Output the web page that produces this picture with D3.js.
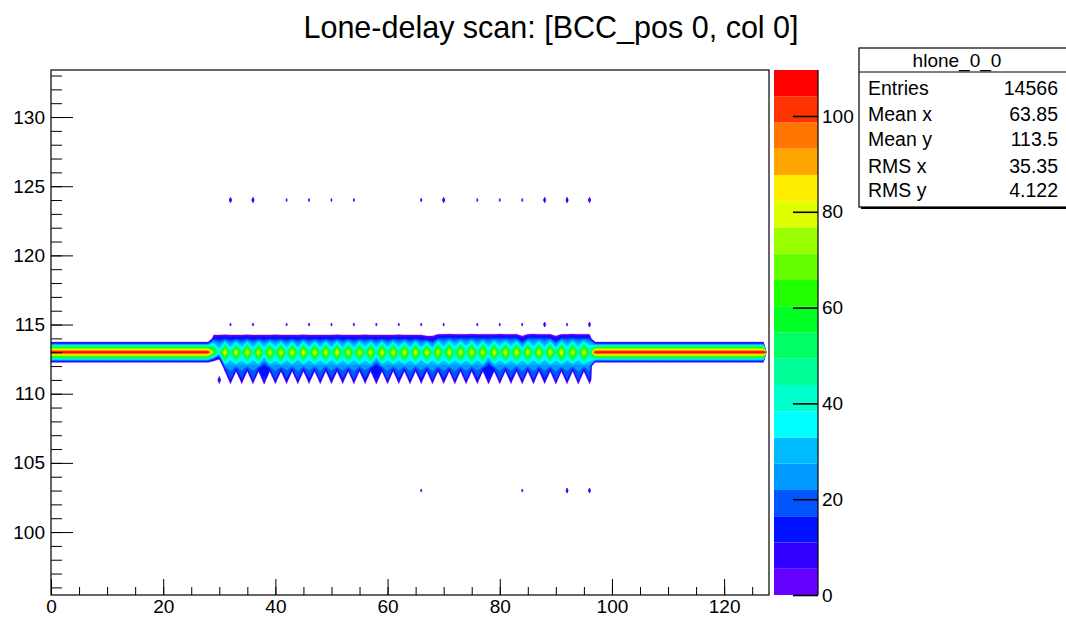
<!DOCTYPE html>
<html>
<head>
<meta charset="utf-8">
<script src="https://cdn.jsdelivr.net/npm/d3@7"></script>
<style>
  body { margin: 0; background: #fff; }
  #content { width: 1066px; height: 618px; }
  text { font-family: "Liberation Sans", Arial, Helvetica, sans-serif; fill: #000; }
</style>
</head>
<body>
<div id="content"></div>
<script>
// histogram binning (bins centred on integers)
var xFirst = 0, nx = 128;
var yFirst = 96, ny = 38;
var xDomain = [0, 128];
var yDomain = [95.45, 133.4];
var zMax = 109.6;

var titleText = "Lone-delay scan: [BCC_pos 0, col 0]";
var xTicks = [0, 20, 40, 60, 80, 100, 120];
var yTicks = [100, 105, 110, 115, 120, 125, 130];
var zTicks = [0, 20, 40, 60, 80, 100];

var statsName = "hlone_0_0";
var statsLabels = ["Entries", "Mean x", "Mean y", "RMS x", "RMS y"];
var statsValues = ["14566", "63.85", "113.5", "35.35", "4.122"];

// ROOT-like rainbow palette, lowest level first
var palette = ["#6600ff", "#3300ff", "#0011ff", "#0055ff", "#0099ff",
               "#00bbff", "#00ffff", "#00ffcc", "#00ff99", "#00ff66",
               "#00ff22", "#22ff00", "#66ff00", "#99ff00", "#ddff00",
               "#ffee00", "#ffa500", "#ff7700", "#ff3300", "#ff0000"];

// outside the scan only the y = 113 row is filled
var peakY = 113;
var sideCount = 108;
var sideRanges = [[0, 28], [97, 127]];

// inside the scan, x = 29 .. 96
var scanX = d3.range(29, 97);
var row114 = [13, 13, 14, 13, 13, 13, 14, 13, 13, 13, 13, 14, 13, 13, 13, 13, 14, 13, 13, 13,
              13, 13, 14, 13, 13, 13, 13, 14, 13, 13, 13, 13, 13, 14, 13, 13, 13, 13,
              8, 8,
              17, 17, 18, 17, 17, 17, 18, 17, 17, 17, 17, 18, 17, 17, 17,
              8,
              17, 18, 17, 17, 17,
              8,
              17, 17, 18, 17, 17, 17];
var row113 = [70, 40,
              86, 44, 85, 45, 87, 43, 86, 44, 85, 46, 86, 44, 87, 43, 85, 44, 86, 45,
              86, 44, 87, 44, 85, 43, 86, 45, 86, 44, 87, 44, 85, 45, 86, 44, 86, 43,
              87, 45, 85, 44, 86, 44, 86, 45, 87, 44, 85, 43, 86, 44, 86, 45, 87, 44,
              85, 44, 86, 43, 86, 45, 87, 44, 85, 44, 86, 48];
var row112 = [0, 0, 23, 25, 24, 25, 23, 25, 24, 12, 24, 25, 24, 25, 23, 25, 24, 25, 24, 25,
              23, 25, 24, 25, 24, 25, 23, 25, 24, 12, 24, 25, 23, 25, 24, 25, 24, 25, 23, 25,
              24, 25, 24, 25, 23, 25, 24, 25, 24, 12, 24, 25, 23, 25, 24, 25, 24, 25, 23, 25,
              24, 25, 24, 25, 23, 25, 24, 25];
var row111 = [0, 15, 0, 16, 0, 15, 0, 16, 0, 18, 0, 16, 0, 15, 0, 16, 0, 15, 0, 16,
              0, 15, 0, 15, 0, 16, 0, 15, 0, 17, 0, 16, 0, 15, 0, 16, 0, 15, 0, 16,
              0, 15, 0, 16, 0, 16, 0, 15, 0, 17, 0, 16, 0, 15, 0, 16, 0, 16, 0, 15,
              0, 17, 0, 16, 0, 17, 0, 16];

// isolated single bins [x, y, count]
var strayBins = [
  [32, 124, 10], [36, 124, 10], [42, 124, 5], [46, 124, 5], [50, 124, 5], [54, 124, 5],
  [66, 124, 6], [70, 124, 10], [76, 124, 5], [80, 124, 5], [84, 124, 5], [88, 124, 10],
  [92, 124, 10], [96, 124, 10],
  [32, 115, 5], [36, 115, 5], [42, 115, 5], [46, 115, 5], [50, 115, 5], [54, 115, 5],
  [58, 115, 5], [62, 115, 5], [66, 115, 5], [70, 115, 5], [76, 115, 5], [80, 115, 5],
  [84, 115, 5], [88, 115, 9], [92, 115, 5], [96, 115, 9],
  [66, 103, 5], [84, 103, 5], [92, 103, 9], [96, 103, 9]
];

// empty bins are pulled below zero so contours hug the filled bins
var emptyFloor = -40;

(function(d3) {
    var width = 1066, height = 618;
    var frame = {left: 51, right: 769, top: 70, bottom: 595};
    var pal = {left: 774, right: 818};

    var svg = d3.select("#content").append("svg")
        .attr("viewBox", [0, 0, width, height])
        .attr("width", width).attr("height", height)
        .style("background", "#fff");

    var x = d3.scaleLinear().domain(xDomain).range([frame.left, frame.right]);
    var y = d3.scaleLinear().domain(yDomain).range([frame.bottom, frame.top]);
    var z = d3.scaleLinear().domain([0, zMax]).range([frame.bottom, frame.top]);
    var levels = palette.map(function(c, k) { return k * zMax / palette.length; });

    function put(grid, xv, yv, c) {
        grid[(yv - yFirst) * nx + (xv - xFirst)] = c;
    }

    var band = new Array(nx * ny).fill(0);
    sideRanges.forEach(function(r) {
        d3.range(r[0], r[1] + 1).forEach(function(xv) { put(band, xv, peakY, sideCount); });
    });
    scanX.forEach(function(xv, k) {
        put(band, xv, 114, row114[k]);
        put(band, xv, 113, row113[k]);
        put(band, xv, 112, row112[k]);
        put(band, xv, 111, row111[k]);
    });

    var stray = new Array(nx * ny).fill(0);
    strayBins.forEach(function(d) { put(stray, d[0], d[1], d[2]); });

    var toPlot = d3.geoPath(d3.geoTransform({
        point: function(cx, cy) {
            this.stream.point(x(xFirst + cx - 0.5), y(yFirst + cy - 0.5));
        }
    }));

    svg.append("clipPath").attr("id", "frameClip")
        .append("rect")
        .attr("x", frame.left).attr("y", frame.top)
        .attr("width", frame.right - frame.left).attr("height", frame.bottom - frame.top);

    var plot = svg.append("g").attr("clip-path", "url(#frameClip)");

    function drawContours(grid, edge) {
        var values = grid.map(function(c) { return c > 0 ? c : emptyFloor; });
        var contours = d3.contours().size([nx, ny]).thresholds(levels)(values);
        plot.append("g").selectAll("path")
            .data(contours)
            .join("path")
            .attr("d", toPlot)
            .attr("fill", function(d, i) { return palette[i]; })
            .attr("stroke", function(d, i) { return palette[i]; })
            .attr("stroke-width", edge)
            .attr("stroke-linejoin", "round");
    }
    drawContours(band, 0.4);
    drawContours(stray, 0.9);

    // axes, ROOT style: ticks inside the frame
    function styleAxis(g, size) {
        g.select(".domain").remove();
        g.selectAll("line").attr("stroke", "#000").attr("stroke-width", 1);
        g.selectAll("text").attr("font-size", size)
            .attr("font-family", "Liberation Sans, Arial, sans-serif").attr("fill", "#000");
    }

    svg.append("g")
        .attr("transform", "translate(0," + frame.bottom + ")")
        .call(d3.axisBottom(x).tickValues(d3.range(0, 128, 5)).tickSize(-8).tickFormat(""))
        .call(styleAxis, 19);
    svg.append("g")
        .attr("transform", "translate(0," + frame.bottom + ")")
        .call(d3.axisBottom(x).tickValues(xTicks).tickSize(-16).tickPadding(5).tickFormat(d3.format("d")))
        .call(styleAxis, 19);

    svg.append("g")
        .attr("transform", "translate(" + frame.left + ",0)")
        .call(d3.axisLeft(y).tickValues(d3.range(96, 134, 1)).tickSize(-11).tickFormat(""))
        .call(styleAxis, 19);
    svg.append("g")
        .attr("transform", "translate(" + frame.left + ",0)")
        .call(d3.axisLeft(y).tickValues(yTicks).tickSize(-22).tickPadding(6).tickFormat(d3.format("d")))
        .call(styleAxis, 19);

    svg.append("rect")
        .attr("x", frame.left).attr("y", frame.top)
        .attr("width", frame.right - frame.left).attr("height", frame.bottom - frame.top)
        .attr("fill", "none").attr("stroke", "#000").attr("stroke-width", 1.2);

    // colour palette
    svg.append("g").selectAll("rect")
        .data(levels)
        .join("rect")
        .attr("x", pal.left)
        .attr("width", pal.right - pal.left)
        .attr("y", function(d, i) { return z(i + 1 < levels.length ? levels[i + 1] : zMax); })
        .attr("height", function(d, i) { return z(d) - z(i + 1 < levels.length ? levels[i + 1] : zMax); })
        .attr("fill", function(d, i) { return palette[i]; });

    svg.append("g")
        .attr("transform", "translate(" + pal.right + ",0)")
        .call(d3.axisRight(z).tickValues(zTicks).tickSize(-25).tickPadding(4).tickFormat(d3.format("d")))
        .call(styleAxis, 19)
        .call(function(g) { g.selectAll("line").attr("stroke-width", 1.6); });
    svg.append("line")
        .attr("x1", pal.right).attr("x2", pal.right)
        .attr("y1", frame.top).attr("y2", frame.bottom)
        .attr("stroke", "#000").attr("stroke-width", 1.2);

    // title
    svg.append("text")
        .attr("x", 551).attr("y", 38)
        .attr("text-anchor", "middle")
        .attr("font-size", 30.5)
        .text(titleText);

    // stats box (runs past the right edge of the canvas)
    var stats = svg.append("g");
    stats.append("rect")
        .attr("x", 861).attr("y", 50).attr("width", 220).attr("height", 159)
        .attr("fill", "#000");
    stats.append("rect")
        .attr("x", 859).attr("y", 48).attr("width", 220).attr("height", 159)
        .attr("fill", "#fff").attr("stroke", "#000").attr("stroke-width", 1.2);
    stats.append("line")
        .attr("x1", 859).attr("x2", 1066).attr("y1", 72).attr("y2", 72)
        .attr("stroke", "#000").attr("stroke-width", 1);
    stats.append("text")
        .attr("x", 957).attr("y", 67)
        .attr("text-anchor", "middle").attr("font-size", 19)
        .text(statsName);
    var rowY = [95, 121, 146, 173, 197];
    statsLabels.forEach(function(label, i) {
        stats.append("text").attr("x", 868).attr("y", rowY[i])
            .attr("font-size", 19.5).text(label);
        stats.append("text").attr("x", 1058).attr("y", rowY[i])
            .attr("text-anchor", "end").attr("font-size", 19.5).text(statsValues[i]);
    });
})(d3);
</script>
</body>
</html>
